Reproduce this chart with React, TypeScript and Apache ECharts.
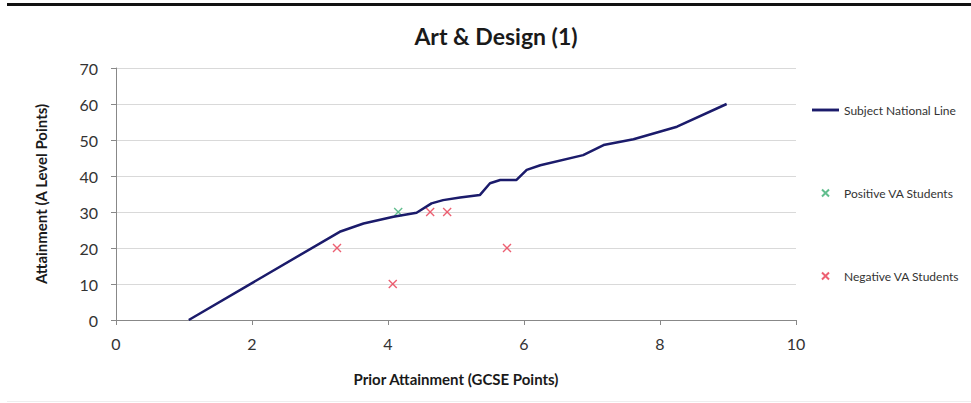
import React, { useEffect, useRef } from "react";
import * as echarts from "echarts";

const titleText = "Art & Design (1)";
const xAxisName = "Prior Attainment (GCSE Points)";
const yAxisName = "Attainment (A Level Points)";

const lineX = [1.07, 3.29, 3.64, 4.08, 4.42, 4.64, 4.81, 5.06, 5.35, 5.5, 5.65, 5.89, 6.04, 6.24, 6.87, 7.17, 7.61, 8.25, 8.98];
const lineY = [0, 24.5, 26.8, 28.7, 29.8, 32.4, 33.3, 34.0, 34.7, 38.0, 38.9, 38.9, 41.7, 43.0, 45.8, 48.6, 50.2, 53.7, 60];

const positiveX = [4.15];
const positiveY = [30];

const negativeX = [3.25, 4.07, 4.62, 4.87, 5.75];
const negativeY = [20, 10, 30, 30, 20];

const seriesNames = ["Subject National Line", "Positive VA Students", "Negative VA Students"];

const FONT = "Lato, 'Open Sans', sans-serif";
const CROSS = "path://M0,0L10,10M10,0L0,10";
const LINE_ICON = "path://M0,0L28,0L28,3L0,3Z";

export default function App() {
  const ref = useRef<HTMLDivElement>(null);
  useEffect(() => {
    document.body.style.margin = "0";
    if (!ref.current) return;
    const chart = echarts.init(ref.current, undefined, { renderer: "svg" });
    const zip = (xs: number[], ys: number[]) => xs.map((x, i) => [x, ys[i]]);
    chart.setOption({
      animation: false,
      backgroundColor: "#ffffff",
      title: {
        text: titleText,
        left: 491,
        textAlign: "center",
        top: 19,
        textStyle: { fontFamily: FONT, fontSize: 23, fontWeight: "bold", color: "#1a1a1a" },
      },
      grid: { left: 116, right: 175, top: 68, bottom: 83 },
      legend: {
        orient: "vertical",
        left: 812,
        top: 104,
        padding: 0,
        itemWidth: 27,
        itemHeight: 7,
        itemGap: 71,
        textStyle: { fontFamily: FONT, fontSize: 12, color: "#333" },
        data: [
          { name: seriesNames[0], icon: LINE_ICON, itemStyle: { color: "#1b1b6b" } },
          { name: seriesNames[1] },
          { name: seriesNames[2] },
        ],
      },
      xAxis: {
        type: "value",
        min: 0,
        max: 10,
        interval: 2,
        name: xAxisName,
        nameLocation: "middle",
        nameGap: 51,
        nameTextStyle: { fontFamily: FONT, fontSize: 15, fontWeight: "bold", color: "#1a1a1a" },
        axisLine: { show: true, lineStyle: { color: "#888", width: 1 } },
        axisTick: { show: true, length: 5, lineStyle: { color: "#888" } },
        axisLabel: { fontFamily: FONT, fontSize: 16, color: "#333", margin: 15 },
        splitLine: { show: false },
      },
      yAxis: {
        type: "value",
        min: 0,
        max: 70,
        interval: 10,
        name: yAxisName,
        nameLocation: "middle",
        nameGap: 68,
        nameTextStyle: { fontFamily: FONT, fontSize: 15, fontWeight: "bold", color: "#1a1a1a" },
        axisLine: { show: true, lineStyle: { color: "#888", width: 1 } },
        axisTick: { show: true, length: 5, lineStyle: { color: "#888" } },
        axisLabel: { fontFamily: FONT, fontSize: 16, color: "#333", margin: 18 },
        splitLine: { show: true, lineStyle: { color: "#d9d9d9", width: 1 } },
      },
      series: [
        {
          name: seriesNames[0],
          type: "line",
          data: zip(lineX, lineY),
          showSymbol: false,
          symbol: "none",
          lineStyle: { color: "#1b1b6b", width: 2.5 },
          itemStyle: { color: "#1b1b6b" },
        },
        {
          name: seriesNames[1],
          type: "scatter",
          data: zip(positiveX, positiveY),
          symbol: CROSS,
          symbolSize: 8,
          itemStyle: { color: "none", borderColor: "#3aae72", borderWidth: 1.4 },
        },
        {
          name: seriesNames[2],
          type: "scatter",
          data: zip(negativeX, negativeY),
          symbol: CROSS,
          symbolSize: 8,
          itemStyle: { color: "none", borderColor: "#e8384f", borderWidth: 1.4 },
        },
      ],
      graphic: [
        { type: "rect", shape: { x: 7, y: 3, width: 964, height: 3 }, style: { fill: "#111" } },
        { type: "rect", shape: { x: 7, y: 401, width: 964, height: 1 }, style: { fill: "#eeeeee" } },
      ],
    });
    return () => chart.dispose();
  }, []);
  return <div ref={ref} style={{ width: 971, height: 403 }} />;
}
